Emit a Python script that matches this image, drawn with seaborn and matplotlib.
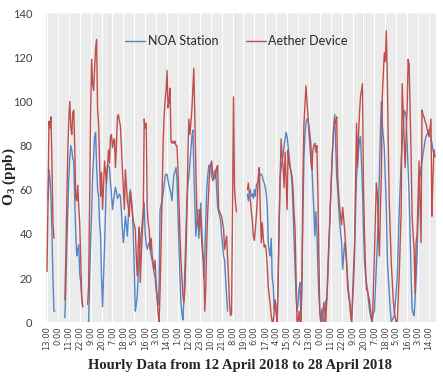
import numpy as np
import pandas as pd
import seaborn as sns
import matplotlib.pyplot as plt

nan = np.nan

# hourly O3 (ppb) from 12 April 2018 13:00
noa_station = (
    [nan, 55, 69, 65, 57, 40, 20, 5, 5]
    + [nan] * 9
    + [2, 15, 35, 51, 65, 75, 80, 78, 74, 73, 55, 40, 30, 33, 35, 22, 18, 10, 7]
    + [nan] * 4
    + [0, 0, 20, 36, 50, 67, 75, 84, 86, 71, 60, 57, 45, 39, 20, 7, 20, 34, 50, 67]
    + [71, 71, 70, 63, 58, 51, 55, 58, 61, 59, 56, 57, 58, 57, 50, 42, 36, 42, 48, 44]
    + [39, 48, 57, 60, 56, 51, 40, 24, 5, 8, 12, 22, 30, 36, 40, 45, 50, 54, 40, 35]
    + [33, 35, 36, 33, 30, 28, 25, 22, 20, 15, 11, 8, 17, 51, 53, 55, 58, 62, 66, 67]
    + [67, 64, 62, 60, 58, 55, 62, 67, 68, 70, 65, 50, 36, 20, 9, 4, 1, 10, 25, 40]
    + [55, 62, 66, 72, 78, 84, 87, 70, 55, 39, 45, 51, 38, 45, 54, 42, 33, 20, 30, 45]
    + [60, 66, 71, 70, 72, 66, 64, 65, 68, 69, 60, 52, 50, 48, 46, 40, 35, 30, 28, 20]
    + [12, 5]
    + [nan] * 19
    + [58, 55, 58, 60, 57, 58, 56, 60, 57, 62, 63, 64, 66, 67, 67, 66, 64, 63, 61, 58]
    + [53, 36, 32, 30, 38, 20, 17, 6, 10, 5, 0, 20, 45, 66, 70, 73, 76, 80, 83, 86]
    + [84, 80, 75, 71, 68, 62, 51, 38, 26, 12, 5, 8, 15, 18, 0, 20, 50, 75, 85, 90]
    + [92, 92, 89, 85, 81, 70, 60, 51, 39, 50, 42, 25, 12, 5, 0, 6, 3, 0, 0, 10]
    + [10, 20, 32, 45, 58, 70, 80, 88]
    + [94, 80, 66, 60, 52, 45, 40, 36, 24, 30, 36, 32, 27, 20, 14, 10, 5, 0, 8, 18]
    + [30, 50, 66, 72, 78, 82, 84, 72, 60, 42, 27, 22, 18, 15, 10, 6, 3, 1, 2, 4]
    + [5, 15, 25, 36, 50, 66, 85, 100, 89, 84, 79, 65, 51, 29, 20, 13, 6, 0, 1, 2]
    + [3, 8, 14, 20, 35, 50, 62, 73, 81, 88, 96, 95, 93, 81, 70, 57, 40, 21, 6, 4]
    + [3, 10, 20, 30, 45, 63, 66, 70, 73, 76, 79, 82, 84, 85, 86, 87, 85, 83, 81, 78, 76, 75]
)

aether_device = (
    [23, 55, 91, 88, 93, 72, 45, 38]
    + [nan] * 10
    + [10, 30, 55, 78, 92, 100, 88, 85, 95, 96, 78, 56, 55, 62, 52, 45, 28, 12, 7]
    + [nan] * 4
    + [8, 17, 55, 95, 119, 108, 105, 115, 124, 128, 96, 90, 72, 57, 68, 51, 62, 73, 68, 63]
    + [70, 78, 72, 84, 85, 79, 82, 83, 70, 80, 93, 94, 91, 89, 80, 70, 60, 51, 69, 62]
    + [55, 52, 48, 59, 55, 50, 46, 44, 42, 30, 21, 35, 43, 18, 30, 40, 48, 92, 88, 90]
    + [51, 45, 42, 33, 38, 30, 27, 24, 28, 18, 10, 4, 0, 15, 35, 58, 80, 93, 100, 105]
    + [114, 97, 100, 106, 82, 81, 82, 81, 82, 80, 80, 70, 55, 40, 28, 20, 12, 9, 15, 30]
    + [49, 75, 92, 85, 90, 96, 105, 115, 92, 70, 51, 45, 42, 51, 44, 36, 30, 27, 5, 15]
    + [36, 50, 60, 69, 71, 73, 68, 65, 65, 67, 70, 71, 51, 50, 49, 48, 45, 42, 33, 36]
    + [39, 30, 20, 8, 3, 4, 50, 102, 60, 54, 50]
    + [nan] * 10
    + [60, 63, 58, 55, 50, 46, 39, 37, 42, 48, 56, 66, 70, 50, 36, 45, 38, 34, 35, 32]
    + [25, 16, 12, 8, 3, 0, 0, 5, 10, 4, 0, 20, 45, 66, 83, 75, 70, 61, 77, 65]
    + [51, 78, 72, 70, 68, 66, 60, 50, 42, 20, 0, 0, 5, 0, 0, 20, 66, 90, 98, 107]
    + [100, 94, 86, 80, 72, 69, 78, 80, 81, 77, 80, 60, 30, 5, 0, 0, 3, 9, 5, 0]
    + [10, 22, 36, 45, 58, 70, 80, 88, 92, 90, 93, 66, 58, 52, 48, 44, 52, 47]
    + [42, 35, 27, 16, 12, 9, 4, 0, 12, 25, 36, 62, 90, 70, 85, 95, 102, 105, 108, 61]
    + [40, 25, 15, 14, 12, 10, 6, 2, 0, 15, 30, 48, 63, 58, 42, 30, 50, 66, 103, 112]
    + [122, 118, 132, 111, 80, 54, 40, 27, 18, 10, 5, 2, 0, 0, 10, 21, 36, 51, 108, 95]
    + [81, 70, 85, 96, 119, 117, 95, 75, 48, 40, 33, 13, 36, 40, 55, 73, 55, 36, 96, 94]
    + [93, 91, 90, 88, 86, 84, 88, 92, 48, 65, 78, 75]
)

tick_labels = ["13:00", "0:00", "11:00", "22:00", "9:00", "20:00", "7:00", "18:00",
               "5:00", "16:00", "3:00", "14:00", "1:00", "12:00", "23:00", "10:00",
               "21:00", "8:00", "19:00", "6:00", "17:00", "4:00", "15:00", "2:00",
               "13:00", "0:00", "11:00", "22:00", "9:00", "20:00", "7:00", "18:00",
               "5:00", "16:00", "3:00", "14:00"]

frames = []
for name, vals in [("NOA Station", noa_station), ("Aether Device", aether_device)]:
    s = pd.Series(vals, dtype=float)
    d = pd.DataFrame({"hour": np.arange(len(s)), "o3": s, "series": name,
                      "seg": s.isna().cumsum()})
    frames.append(d.dropna())
df = pd.concat(frames, ignore_index=True)

sns.set_style("white")
plt.rcParams["font.family"] = ["Lato", "DejaVu Sans"]
plt.rcParams["mathtext.fontset"] = "custom"
plt.rcParams["mathtext.rm"] = "Liberation Serif:bold"

fig, ax = plt.subplots(figsize=(4.43, 3.84), dpi=100)
fig.subplots_adjust(left=0.1016, right=0.984, top=0.966, bottom=0.161)

sns.lineplot(data=df, x="hour", y="o3", hue="series", units="seg", estimator=None,
             palette={"NOA Station": "#5585c2", "Aether Device": "#be4f4c"},
             linewidth=1.0, ax=ax)

# dense hourly vertical gridlines (minor only, so none are drawn twice)
ax.set_xticks(np.arange(-1, 393), minor=True)
ax.grid(which="minor", axis="x", color="#dcdcdc", linewidth=0.4)
ax.grid(which="major", visible=False)
ax.set_axisbelow(True)

ax.set_xlim(-2, 392)
ax.set_ylim(0, 140)
ax.set_yticks(range(0, 141, 20))
ax.set_xticks(range(0, 386, 11))
ax.set_xticklabels(tick_labels, rotation=90, fontsize=6, color="#404040",
                   family="DejaVu Sans")
ax.tick_params(axis="y", labelsize=8, colors="#404040", length=0, pad=9)
ax.tick_params(axis="x", length=0, pad=3)
ax.tick_params(which="minor", length=0)
for sp in ax.spines.values():
    sp.set_visible(False)

ax.set_xlabel("Hourly Data from 12 April 2018 to 28 April 2018", family="Liberation Serif",
              fontweight="bold", fontsize=10.5, labelpad=6)
ax.set_ylabel("O$_3$ (ppb)", family="Liberation Serif", fontweight="bold", fontsize=11)
ax.yaxis.set_label_coords(-0.068, 0.47)

h, l = ax.get_legend_handles_labels()
ax.legend(h, l, loc="center", bbox_to_anchor=(0.49, 0.909), ncol=2, frameon=False,
          fontsize=9, handlelength=1.6, handletextpad=0.2, columnspacing=2.2)

plt.savefig("out.png", dpi=100)
plt.close()
